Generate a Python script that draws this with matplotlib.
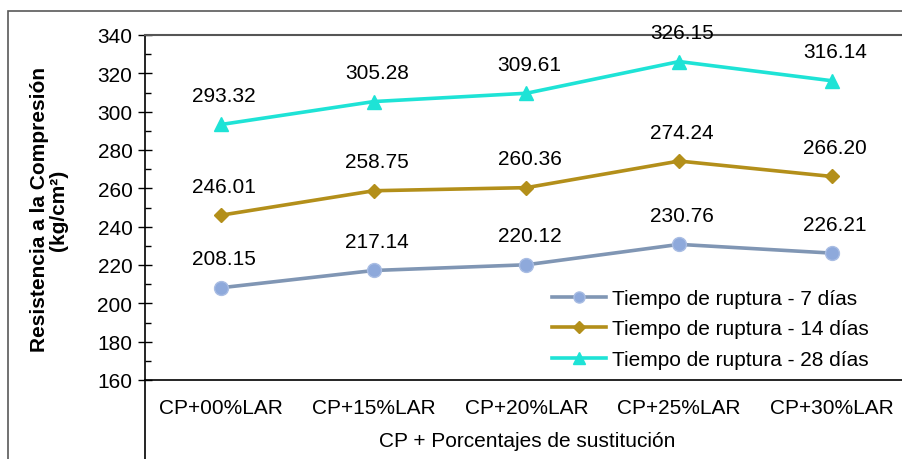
import matplotlib
matplotlib.use("Agg")
import matplotlib.pyplot as plt
from matplotlib.lines import Line2D
from matplotlib.patches import Rectangle

plt.rcParams["font.family"] = ["Liberation Sans", "DejaVu Sans"]

categories = ["CP+00%LAR", "CP+15%LAR", "CP+20%LAR", "CP+25%LAR", "CP+30%LAR"]
dias_7 = [208.15, 217.14, 220.12, 230.76, 226.21]
dias_14 = [246.01, 258.75, 260.36, 274.24, 266.20]
dias_28 = [293.32, 305.28, 309.61, 326.15, 316.14]
series_names = ["Tiempo de ruptura - 7 días",
                "Tiempo de ruptura - 14 días",
                "Tiempo de ruptura - 28 días"]

W, H = 903, 460
FS = 15
fig = plt.figure(figsize=(W / 100, H / 100), dpi=100)

# outer chart border (cut off on the right and bottom like the original)
fig.patches.append(Rectangle((8 / W, -0.1), 1.2, 1 - 12 / H + 0.1,
                             transform=fig.transFigure, fill=False,
                             ec="#595959", lw=1.2))

ax = fig.add_axes([145 / W, 1 - 381 / H, (908 - 145) / W, (381 - 36) / H])
x = list(range(len(categories)))

styles = [
    dict(color="#8096B4", marker="o", ms=10, mfc="#8EA9DB", mec="#A9BDE3"),
    dict(color="#B38F1A", marker="D", ms=7.5, mfc="#B38F1A", mec="#B38F1A"),
    dict(color="#1EE3D6", marker="^", ms=10, mfc="#1EE3D6", mec="#1EE3D6"),
]
for vals, name, st in zip([dias_7, dias_14, dias_28], series_names, styles):
    ax.plot(x, vals, lw=2.6, label=name, zorder=3, clip_on=False, **st)
    for xi, v in zip(x, vals):
        ax.annotate(f"{v:.2f}", (xi, v), xytext=(3, 29),
                    textcoords="offset pixels", ha="center", va="center",
                    fontsize=FS, color="black", zorder=4)

ax.set_xlim(-0.5, len(categories) - 0.5)
ax.set_ylim(160, 340)
ax.set_yticks(range(160, 341, 20))
ax.set_yticks(range(170, 340, 20), minor=True)
ax.tick_params(axis="y", which="major", direction="inout", length=10,
               width=1, labelsize=FS, pad=4)
ax.tick_params(axis="y", which="minor", direction="in", length=4.5, width=1)
ax.set_xticks(x)
ax.set_xticklabels(categories)
ax.tick_params(axis="x", length=0, labelsize=FS, pad=13)

ax.spines["right"].set_visible(False)
ax.spines["top"].set_color("#555555")
ax.spines["top"].set_linewidth(1.5)
ax.spines["left"].set_linewidth(1.2)
ax.spines["bottom"].set_linewidth(1.2)

# left axis line continues down through the category area
fig.add_artist(Line2D([145 / W, 145 / W], [0, 1 - 381 / H],
                      transform=fig.transFigure, color="black", lw=1.2))

fig.text(527 / W, 1 - 442 / H, "CP + Porcentajes de sustitución",
         ha="center", va="center", fontsize=FS)
fig.text(49 / W, 1 - 210 / H, "Resistencia a la Compresión\n(kg/cm²)",
         ha="center", va="center", rotation=90, fontsize=FS,
         fontweight="bold", multialignment="center", linespacing=1.05)

ax.legend(loc="upper left", bbox_to_anchor=(552 / W, 1 - 290 / H),
          bbox_transform=fig.transFigure, frameon=False, fontsize=FS,
          handlelength=2.6, handletextpad=0.3, labelspacing=0.55,
          borderpad=0, borderaxespad=0, markerscale=0.8)

fig.savefig("out.png", dpi=100)
